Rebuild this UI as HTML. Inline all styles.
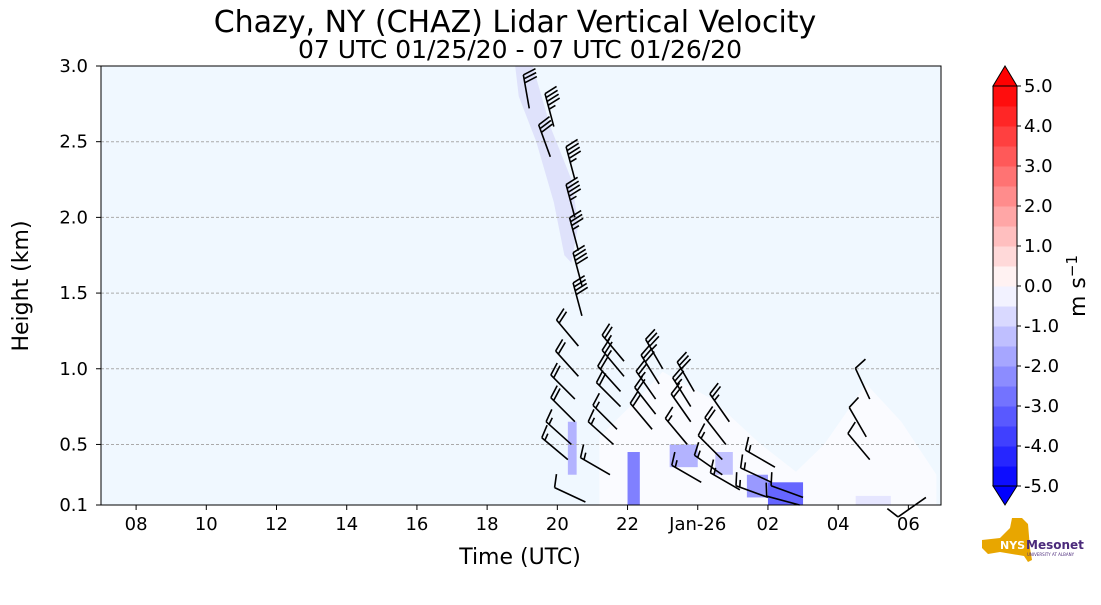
<!DOCTYPE html>
<html><head><meta charset="utf-8"><style>
body{margin:0;background:#fff;}
svg text{font-family:"DejaVu Sans","Liberation Sans",sans-serif;}
</style></head><body>
<svg id="chart" width="1101" height="600" viewBox="0 0 1101 600">
<text x="515" y="32" font-size="30" text-anchor="middle">Chazy, NY (CHAZ) Lidar Vertical Velocity</text>
<text x="520" y="58" font-size="25" text-anchor="middle">07 UTC 01/25/20 - 07 UTC 01/26/20</text>
<g id="plot"></g>
<text x="28" y="286" font-size="22" text-anchor="middle" transform="rotate(-90 28 286)">Height (km)</text>
<text x="520" y="564" font-size="22" text-anchor="middle">Time (UTC)</text>
<g id="cbar"></g>
<text x="1085" y="286" font-size="22" text-anchor="middle" transform="rotate(-90 1085 286)">m s<tspan dy="-8" font-size="15">−1</tspan></text>
<g>
<path d="M982,540 L1000,538 L1010,528 L1012,518 L1022,518 L1028,524 L1030,548 L1032,560 L1028,562 L1024,556 L1000,552 L988,554 L982,548 Z" fill="#e8a600"/>
<text x="1000" y="549" font-size="11" font-weight="bold" fill="#fff">NYS</text>
<text x="1026" y="549" font-size="12" font-weight="bold" fill="#4b2a7b">Mesonet</text>
<text x="1027" y="556" font-size="4" fill="#4b2a7b">UNIVERSITY AT ALBANY</text>
</g>
</svg>
<script>
// data (time in hours since 07 UTC 01/25)
const yTicks=[0.1,0.5,1.0,1.5,2.0,2.5,3.0];
const yTickLabels=["0.1","0.5","1.0","1.5","2.0","2.5","3.0"];
const xTicks=[1,3,5,7,9,11,13,15,17,19,21,23];
const xTickLabels=["08","10","12","14","16","18","20","22","Jan-26","02","04","06"];
const cbarTicks=[-5,-4,-3,-2,-1,0,1,2,3,4,5];
const barbTime=[12.2,12.9,12.8,13.5,13.5,13.6,13.7,13.7, 13.6,13.6,13.5,13.5,13.4,13.3, 14.9,14.9,14.8,14.8,14.7,14.6,14.5, 16.0,15.9,15.8,15.8,15.7, 16.9,16.8,16.8,16.7, 17.9,17.8,17.7,17.7, 19.2,19.1,19.0, 20.0,19.9, 21.9,21.8,21.9, 23.5, 13.8, 17.1,18.2];
const barbHeight=[2.72,2.6,2.4,2.25,2.0,1.78,1.55,1.35, 1.15,0.95,0.8,0.65,0.5,0.4, 1.05,0.95,0.85,0.75,0.6,0.5,0.3, 1.0,0.9,0.8,0.7,0.6, 0.85,0.75,0.65,0.5, 0.65,0.5,0.4,0.3, 0.35,0.25,0.15, 0.15,0.1, 0.8,0.55,0.4, 0.15, 0.12, 0.25,0.2];
const barbDir=[350,345,340,345,345,345,345,345, 320,318,315,315,312,310, 320,320,318,315,315,312,300, 330,328,325,322,320, 330,328,325,320, 325,322,315,305, 300,295,290, 290,285, 335,330,320, 235, 295, 300,300];
const barbSpeed=[30,45,30,45,45,35,40,40, 20,20,20,20,15,15, 25,25,20,20,15,15,15, 35,30,25,20,20, 30,25,20,15, 25,20,15,15, 15,15,15, 10,10, 10,10,10, 10, 10, 15,15];
const regionWhite=[[14.2,0.1],[14.2,0.55],[15.2,0.78],[16,0.98],[17.4,0.8],[18.8,0.5],[19.8,0.32],[20.6,0.5],[21.8,0.9],[22.8,0.65],[23.8,0.3],[23.8,0.1]];
const regionUpper=[[11.8,3.0],[12.3,3.0],[12.8,2.6],[13.4,2.25],[13.6,1.95],[13.4,1.7],[13.2,1.75],[12.9,2.1],[12.4,2.5],[11.9,2.8]];
const blobT0=[13.3,15.0,19.0,16.2,17.5,18.4,21.5];
const blobT1=[13.55,15.35,20.0,17.0,18.0,19.0,22.5];
const blobH0=[0.3,0.1,0.1,0.35,0.3,0.15,0.1];
const blobH1=[0.65,0.45,0.25,0.5,0.45,0.3,0.16];
const blobV=[-1.5,-2.5,-3.0,-1.5,-1.2,-2.0,-0.5];

const X0=101,X1=941,T0=0,T1=23.93,Y0=505,Y1=66,H0=0.1,H1=3.0;
const sx=t=>X0+(t-T0)/(T1-T0)*(X1-X0);
const sy=h=>Y0-(h-H0)/(H1-H0)*(Y0-Y1);
const NS="http://www.w3.org/2000/svg";
function mk(tag,attrs,parent){const e=document.createElementNS(NS,tag);for(const k in attrs)e.setAttribute(k,attrs[k]);parent.appendChild(e);return e;}
function color(v){// bwr
 const f=Math.max(-1,Math.min(1,v/5));
 if(f<0){const a=Math.round(255*(1+f));return `rgb(${a},${a},255)`;}
 const a=Math.round(255*(1-f));return `rgb(255,${a},${a})`;}
const plot=document.getElementById('plot');
let bg=mk('rect',{x:X0,y:Y1,width:X1-X0,height:Y0-Y1,fill:'#f0f8ff'},plot);


let pu=mk('polygon',{points:regionUpper.map(p=>sx(p[0])+','+sy(p[1])).join(' '),fill:'#dfe2fb'},plot);


let pw=mk('polygon',{points:regionWhite.map(p=>sx(p[0])+','+sy(p[1])).join(' '),fill:'#fafbff'},plot);


blobV.forEach((v,i)=>{
 const r=mk('rect',{x:sx(blobT0[i]),y:sy(blobH1[i]),width:sx(blobT1[i])-sx(blobT0[i]),height:sy(blobH0[i])-sy(blobH1[i]),fill:color(v)},plot);
 
 
});
yTicks.forEach((h,i)=>{
 if(i>0&&i<yTicks.length-1){const g=mk('line',{x1:X0,x2:X1,y1:sy(h),y2:sy(h),stroke:'#aaa','stroke-dasharray':'3,2','stroke-width':1},plot);
 
 }
 const tk=mk('line',{x1:X0-5,x2:X0,y1:sy(h),y2:sy(h),stroke:'#000'},plot);
 
 
 const t=mk('text',{x:X0-13,y:sy(h)+6,'font-size':18,'text-anchor':'end'},plot);t.textContent=yTickLabels[i];
 
 
});
xTicks.forEach((tt,i)=>{
 const tk=mk('line',{x1:sx(tt),x2:sx(tt),y1:Y0,y2:Y0+5,stroke:'#000'},plot);
 
 
 const t=mk('text',{x:sx(tt),y:Y0+25,'font-size':18,'text-anchor':'middle'},plot);t.textContent=xTickLabels[i];
 
 
});
// barbs
barbTime.forEach((tt,i)=>{
 const bx=sx(tt),by=sy(barbHeight[i]);const d=barbDir[i]*Math.PI/180;
 const ux=Math.sin(d),uy=-Math.cos(d),L=34;
 const tx=bx+ux*L,ty=by+uy*L;const px=-uy,py=ux;
 let path=`M${bx},${by}L${tx},${ty}`;
 let s=barbSpeed[i],pos=0;
 while(s>=10){const ax=tx-ux*pos,ay=ty-uy*pos;path+=`M${ax},${ay}L${ax+px*13+ux*4},${ay+py*13+uy*4}`;pos+=4;s-=10;}
 if(s>=5){if(pos===0)pos=4;const ax=tx-ux*pos,ay=ty-uy*pos;path+=`M${ax},${ay}L${ax+px*7+ux*2},${ay+py*7+uy*2}`;}
 const p=mk('path',{d:path,stroke:'#000','stroke-width':1.6,fill:'none'},plot);
 
 
});
let fr=mk('rect',{x:X0,y:Y1,width:X1-X0,height:Y0-Y1,fill:'none',stroke:'#000','stroke-width':1},plot);


// colorbar
const cb=document.getElementById('cbar');const CX=993,CW=24,CT=86,CB=486;
const cy=v=>CB-(v+5)/10*(CB-CT);
for(let k=0;k<20;k++){const v0=-5+k*0.5;
 const r=mk('rect',{x:CX,y:cy(v0+0.5),width:CW,height:cy(v0)-cy(v0+0.5)+0.5,fill:color(v0+0.25)},cb);
 
 }
let tri1=mk('polygon',{points:`${CX},${CT} ${CX+CW/2},66 ${CX+CW},${CT}`,fill:'#ff0000',stroke:'#000'},cb);


let tri2=mk('polygon',{points:`${CX},${CB} ${CX+CW/2},505 ${CX+CW},${CB}`,fill:'#0000ff',stroke:'#000'},cb);


let cbf=mk('rect',{x:CX,y:CT,width:CW,height:CB-CT,fill:'none',stroke:'#000'},cb);


cbarTicks.forEach(v=>{
 const tk=mk('line',{x1:CX+CW,x2:CX+CW+4,y1:cy(v),y2:cy(v),stroke:'#000'},cb);
 
 
 const t=mk('text',{x:CX+CW+7,y:cy(v)+6,'font-size':18},cb);t.textContent=v.toFixed(1);
 
 
});
</script>
</body></html>
